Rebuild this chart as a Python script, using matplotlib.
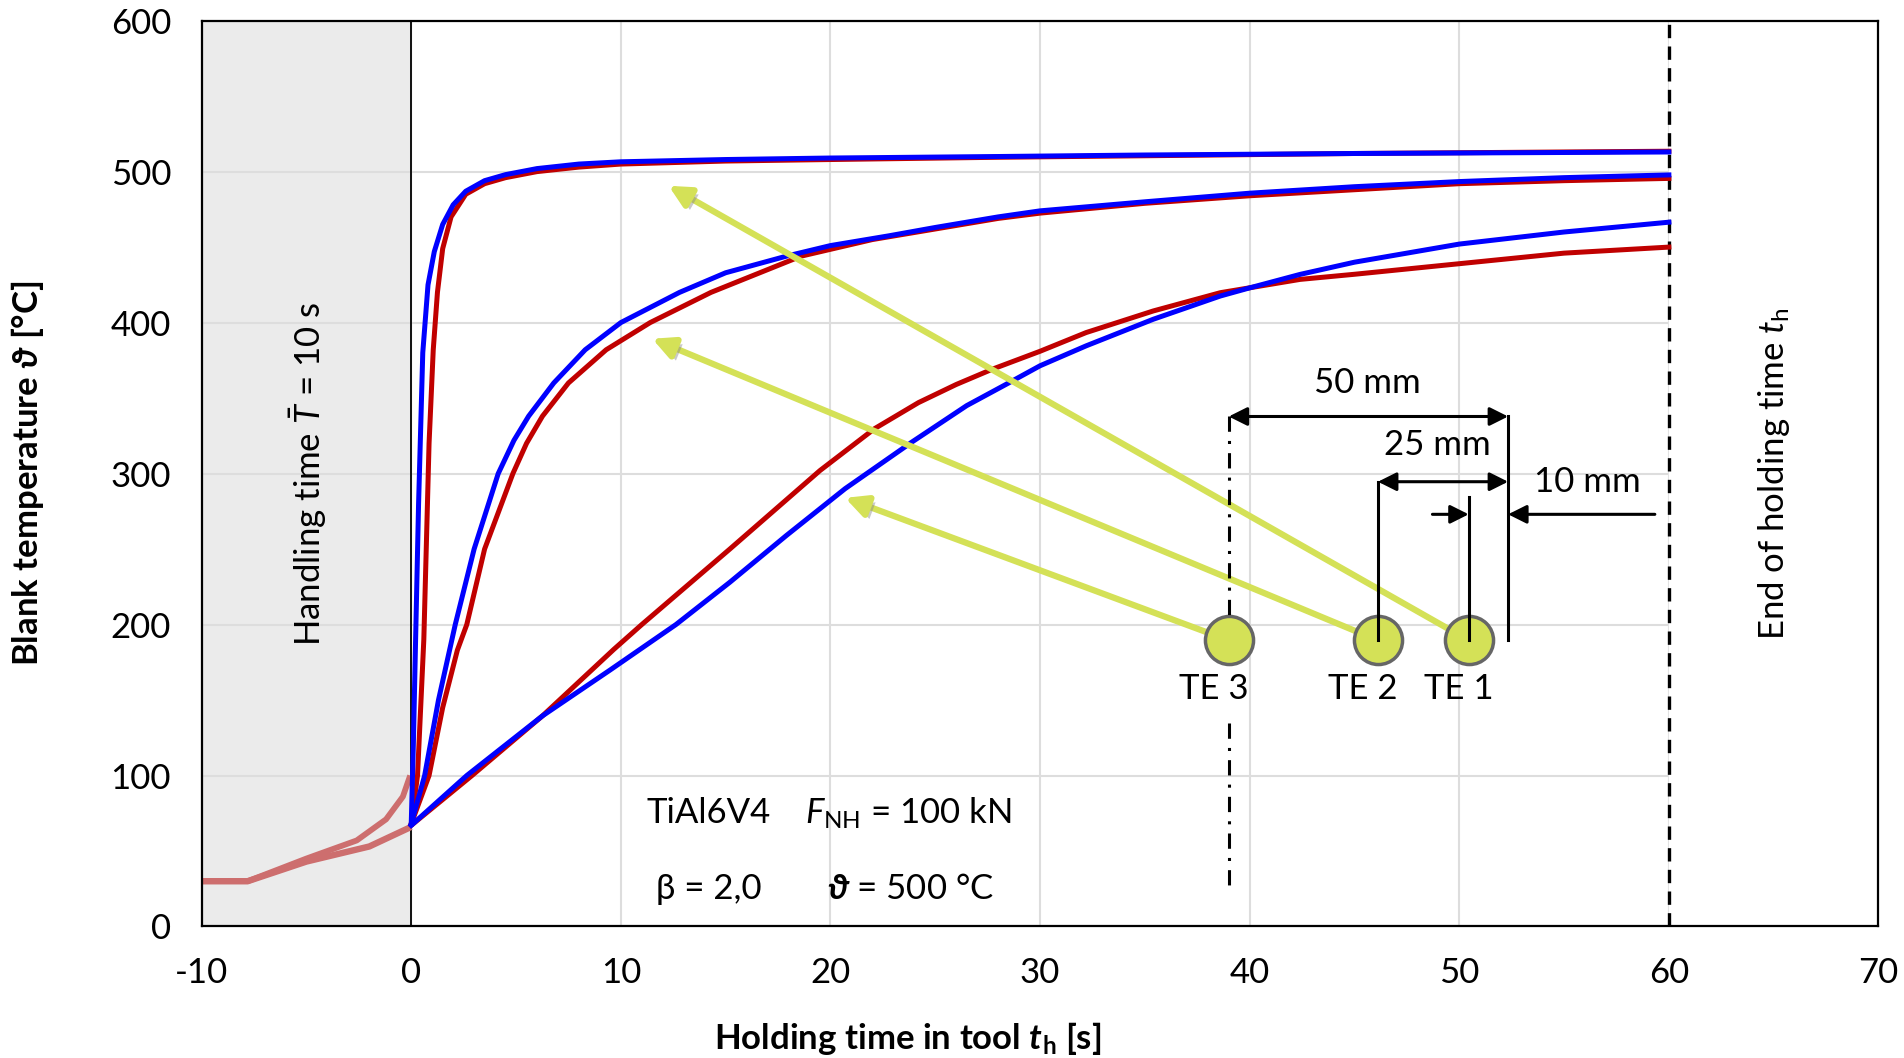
import numpy as np
import matplotlib
matplotlib.use('Agg')
import matplotlib.pyplot as plt
import matplotlib.patheffects as pe

plt.rcParams['font.family'] = ['Lato', 'DejaVu Sans']
plt.rcParams['mathtext.fontset'] = 'custom'
plt.rcParams['mathtext.rm'] = 'Lato'
plt.rcParams['mathtext.it'] = 'Lato:italic'
plt.rcParams['mathtext.bf'] = 'Lato:bold'
plt.rcParams['mathtext.bfit'] = 'Lato:italic:bold'
plt.rcParams['mathtext.fallback'] = 'stix'
plt.rcParams['axes.unicode_minus'] = False

# handling phase (before the tool closes)
pre_low_x = [-10, -7.8, -5, -2, 0]
pre_low_y = [30, 30, 43, 53, 66]
pre_up_x = [-10, -7.8, -5, -2.6, -1.2, -0.4, -0.05]
pre_up_y = [30, 30, 45, 57, 71, 86, 100]

# TE 1 (10 mm)
te1_sim_x = [0, 0.1, 0.2, 0.35, 0.55, 0.8, 1.1, 1.5, 2.0, 2.6, 3.5, 4.5, 6, 8, 10, 15, 20, 28, 35, 45, 60]
te1_sim_y = [68, 120, 185, 280, 380, 425, 447, 465, 478, 487, 494, 498, 502, 505, 506.5, 508, 509, 510, 511, 512, 513]
te1_mes_x = [0, 0.3, 0.6, 0.85, 1.05, 1.25, 1.5, 1.9, 2.6, 3.5, 4.5, 6, 8, 10, 15, 20, 28, 35, 45, 60]
te1_mes_y = [68, 100, 190, 320, 382, 420, 449, 470, 485, 492, 496, 500, 503, 505, 507, 508, 509.5, 510.5, 512, 513.5]

# TE 2 (25 mm)
te2_sim_x = [0, 0.64, 1.3, 2.1, 3.0, 4.15, 4.9, 5.6, 6.8, 8.3, 10, 12.8, 15, 17.9, 20, 22.8, 25, 28, 30, 35, 40, 45, 50, 55, 60]
te2_sim_y = [68, 100, 150, 200, 250, 300, 322, 338, 360, 382, 400, 420, 433, 444, 451, 457.5, 463, 470, 474, 480, 485.7, 490, 493.4, 496, 497.8]
te2_mes_x = [0, 0.85, 1.5, 2.2, 2.65, 3.5, 4.85, 5.5, 6.26, 7.5, 9.3, 11.4, 14.3, 18.6, 22, 25, 28, 30, 35, 40, 45, 50, 55, 60]
te2_mes_y = [68, 100, 145, 183, 200, 250, 300, 320, 338, 360, 382, 400, 420, 444, 455, 462, 469, 472.5, 479, 484, 488, 492, 494, 495.5]

# TE 3 (50 mm)
te3_sim_x = [0, 2.65, 6.26, 9.5, 12.63, 15.2, 17.9, 20.7, 23.9, 26.5, 28.5, 30, 32.2, 35.4, 38.6, 40, 42.4, 45, 50, 55, 60]
te3_sim_y = [67, 100, 139.5, 170, 200, 228, 259, 290, 321, 345, 360, 371.4, 384.6, 402.2, 417.6, 423, 431.9, 440, 452, 460, 466.5]
te3_mes_x = [0, 2.9, 6.26, 9.66, 11, 15.2, 19.5, 22.1, 24.2, 26, 27.7, 30, 32.2, 35.4, 38.6, 42.4, 45, 50, 55, 60]
te3_mes_y = [67, 100, 139.5, 183.5, 200, 250, 302, 329.7, 347, 359, 369, 381, 393.4, 407.7, 419.8, 428.6, 432, 439, 446, 450]

# thermocouple positions (x, y) in the sketch
te_names = ['TE 1', 'TE 2', 'TE 3']
te_x = [50.45, 46.12, 39.0]
te_y = [189.5, 189.5, 189.5]
arrow_tips = [(12.28, 490.6), (11.5, 389.3), (20.7, 283.9)]

red = '#C00000'
blue = '#0000FF'
pink = '#CD6E6E'
lime = '#D4E157'
fs = 25

fig = plt.figure(figsize=(19.04, 10.58), dpi=100)
ax = fig.add_axes([0.1059, 0.1243, 0.8807, 0.8562])

ax.set_xlim(-10, 70)
ax.set_ylim(0, 600)
ax.set_xticks(np.arange(-10, 71, 10))
ax.set_yticks(np.arange(0, 601, 100))
ax.grid(True, color='#DDDDDD', lw=1.5)
ax.set_axisbelow(True)
ax.tick_params(length=0, labelsize=fs, pad=22)
for s in ax.spines.values():
    s.set_linewidth(1.6)
    s.set_color('black')

ax.axvspan(-10, 0, color='#EBEBEB', zorder=0.2)
ax.axvspan(60, 70, color='white', zorder=0.6)
ax.axvline(0, color='black', lw=1.3, zorder=1)
ax.axvline(60, color='black', lw=2.4, ls=(0, (4, 2.5)), zorder=3)

ax.plot(pre_low_x, pre_low_y, color=pink, lw=4.6, solid_capstyle='butt', zorder=2)
ax.plot(pre_up_x, pre_up_y, color=pink, lw=4.2, solid_capstyle='butt', zorder=2)

for (mx, my, sx, sy) in [(te1_mes_x, te1_mes_y, te1_sim_x, te1_sim_y),
                         (te2_mes_x, te2_mes_y, te2_sim_x, te2_sim_y),
                         (te3_mes_x, te3_mes_y, te3_sim_x, te3_sim_y)]:
    ax.plot(mx, my, color=red, lw=3.6, zorder=4, solid_joinstyle='round')
    ax.plot(sx, sy, color=blue, lw=3.6, zorder=5, solid_joinstyle='round')

# green pointers from thermocouples to curves
shadow = [pe.withSimplePatchShadow(offset=(3, -3), shadow_rgbFace='#888888', alpha=0.45)]
for (tx, ty), (px, py) in zip(arrow_tips, zip(te_x, te_y)):
    ax.annotate('', xy=(tx, ty), xytext=(px, py),
                arrowprops=dict(arrowstyle='-|>', color=lime, lw=4.5,
                                mutation_scale=32, shrinkA=0, shrinkB=0,
                                path_effects=shadow),
                zorder=6)

# dimension lines
dim = dict(color='black', lw=2.2, zorder=7)
ax.plot([39.0, 39.0], [338, 205], ls=(0, (5, 3, 1, 3)), **dim)
ax.plot([39.0, 39.0], [135, 26], ls=(0, (5, 3, 1, 3)), **dim)
ax.plot([52.33, 52.33], [338, 189.8], **dim)
ax.plot([46.12, 46.12], [294.6, 189.8], **dim)
ax.plot([50.45, 50.45], [284.3, 189.8], **dim)

ap = dict(arrowstyle='<|-|>', color='black', lw=2.2, mutation_scale=28, shrinkA=0, shrinkB=0)
ax.annotate('', xy=(39.0, 337.8), xytext=(52.33, 337.8), arrowprops=ap, zorder=7)
ax.annotate('', xy=(46.12, 294.6), xytext=(52.33, 294.6), arrowprops=ap, zorder=7)
ap1 = dict(arrowstyle='-|>', color='black', lw=2.2, mutation_scale=28, shrinkA=0, shrinkB=0)
ax.annotate('', xy=(50.45, 273), xytext=(48.72, 273), arrowprops=ap1, zorder=7)
ax.annotate('', xy=(52.33, 273), xytext=(59.33, 273), arrowprops=ap1, zorder=7)

ax.text(45.6, 360, '50 mm', fontsize=fs, ha='center', va='center', zorder=8)
ax.text(48.96, 319, '25 mm', fontsize=fs, ha='center', va='center', zorder=8)
ax.text(56.1, 294.5, '10 mm', fontsize=fs, ha='center', va='center', zorder=8)

ax.scatter(te_x, te_y, s=1200, color=lime, edgecolor='#666666', linewidth=2.5, zorder=6.5)
for name, x in zip(te_names, [50.0, 45.4, 38.3]):
    ax.text(x, 157, name, fontsize=fs, ha='center', va='center', zorder=8)

ax.text(-4.9, 300, r'Handling time $\bar{T}$ = 10 s', rotation=90, fontsize=fs,
        ha='center', va='center', zorder=8)
ax.text(65.0, 300, r'End of holding time $t_\mathrm{h}$', rotation=90, fontsize=fs,
        ha='center', va='center', zorder=8)

ax.text(14.2, 75, 'TiAl6V4', fontsize=fs, ha='center', va='center')
ax.text(23.7, 75, r'$F_\mathrm{NH}$ = 100 kN', fontsize=fs, ha='center', va='center')
ax.text(14.2, 25, 'β = 2,0', fontsize=fs, ha='center', va='center')
ax.text(23.8, 25, r'$\mathbfit{\vartheta}$ = 500 °C', fontsize=fs, ha='center', va='center')

ax.set_xlabel(r'Holding time in tool $\mathbfit{t}_\mathbf{h}$ [s]', fontsize=fs,
              fontweight='bold')
ax.set_ylabel(r'Blank temperature $\mathbfit{\vartheta}$ [°C]', fontsize=fs,
              fontweight='bold')
ax.xaxis.set_label_coords(0.421, -0.103)
ax.yaxis.set_label_coords(-0.0927, 0.5)

fig.savefig('out.png', dpi=100)
